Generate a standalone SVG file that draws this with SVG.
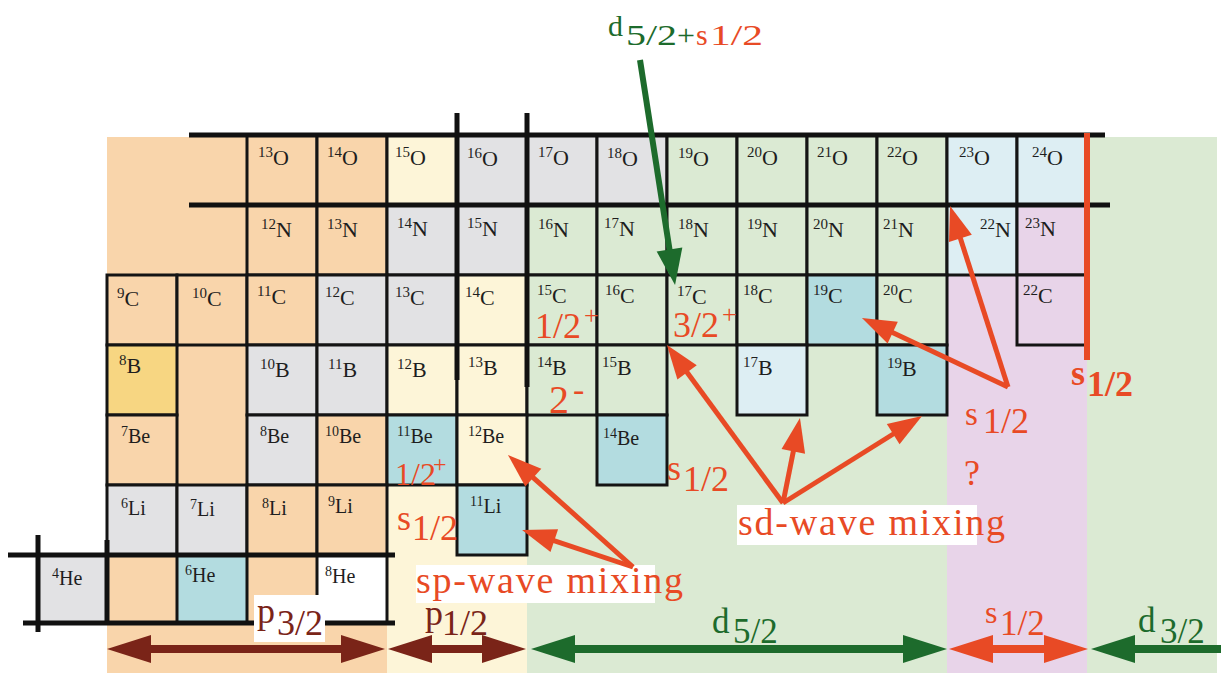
<svg xmlns="http://www.w3.org/2000/svg" width="1221" height="673" viewBox="0 0 1221 673">
<style>
.c{stroke:#141414;stroke-width:3}
.or{fill:#f9d5ab}.gy{fill:#e2e2e4}.cr{fill:#fdf5d8}.gn{fill:#dbead3}.lb{fill:#ddeef3}.tl{fill:#b3dce0}.pk{fill:#e8d4e9}.gd{fill:#f7d682}.wh{fill:#fff}
.t{font-family:"Liberation Serif","Times New Roman",serif;font-size:22px;fill:#1e1e1e}
.t2{font-family:"Liberation Serif","Times New Roman",serif;font-size:20px;fill:#1e1e1e}
.s{font-size:15px}
.s2{font-size:14px}
.bk{stroke:#111;stroke-width:5;fill:none}
.L{font-family:"Liberation Serif","Times New Roman",serif}
.O{fill:#e84a25}.G{fill:#1d6b2c}.B{fill:#7a2418}
.ao{stroke:#e84a25;stroke-width:5;fill:none;marker-end:url(#mO)}
.bb{stroke-width:8;fill:none}
</style>
<defs>
<marker id="mO" markerUnits="userSpaceOnUse" orient="auto-start-reverse" refX="2" refY="0" markerWidth="40" markerHeight="30" overflow="visible"><path d="M0,-12L34,0L0,12z" fill="#e84a25"/></marker>
<marker id="mG" markerUnits="userSpaceOnUse" orient="auto-start-reverse" refX="2" refY="0" markerWidth="40" markerHeight="30" overflow="visible"><path d="M0,-13L36,0L0,13z" fill="#1d6b2c"/></marker>
<marker id="mBb" markerUnits="userSpaceOnUse" orient="auto-start-reverse" refX="2" refY="0" markerWidth="46" markerHeight="30" overflow="visible"><path d="M0,-14L44,0L0,14z" fill="#7a2418"/></marker>
<marker id="mGb" markerUnits="userSpaceOnUse" orient="auto-start-reverse" refX="2" refY="0" markerWidth="46" markerHeight="30" overflow="visible"><path d="M0,-14L44,0L0,14z" fill="#1d6b2c"/></marker>
<marker id="mOb" markerUnits="userSpaceOnUse" orient="auto-start-reverse" refX="2" refY="0" markerWidth="46" markerHeight="30" overflow="visible"><path d="M0,-14L44,0L0,14z" fill="#e84a25"/></marker>
</defs>
<rect width="1221" height="673" fill="#fff"/>
<g id="bands">
<rect x="107" y="137" width="280" height="536" fill="#f9d5ab"/>
<rect x="387" y="137" width="140" height="536" fill="#fdf5d8"/>
<rect x="527" y="137" width="420" height="536" fill="#dbead3"/>
<rect x="947" y="205" width="140" height="468" fill="#e8d4e9"/>
<rect x="1087" y="137" width="130" height="536" fill="#dbead3"/>
</g>
<g id="nodes">
<g id="n13O"><rect class="c or" x="247" y="135" width="70" height="70"/><text class="t" x="258" y="165"><tspan class="s" dy="-8">13</tspan><tspan dy="8">O</tspan></text></g>
<g id="n14O"><rect class="c or" x="317" y="135" width="70" height="70"/><text class="t" x="327" y="165"><tspan class="s" dy="-8">14</tspan><tspan dy="8">O</tspan></text></g>
<g id="n15O"><rect class="c cr" x="387" y="135" width="70" height="70"/><text class="t" x="395" y="165"><tspan class="s" dy="-8">15</tspan><tspan dy="8">O</tspan></text></g>
<g id="n16O"><rect class="c gy" x="457" y="135" width="70" height="70"/><text class="t" x="467" y="166"><tspan class="s" dy="-8">16</tspan><tspan dy="8">O</tspan></text></g>
<g id="n17O"><rect class="c gy" x="527" y="135" width="70" height="70"/><text class="t" x="538" y="165"><tspan class="s" dy="-8">17</tspan><tspan dy="8">O</tspan></text></g>
<g id="n18O"><rect class="c gy" x="597" y="135" width="70" height="70"/><text class="t" x="607" y="166"><tspan class="s" dy="-8">18</tspan><tspan dy="8">O</tspan></text></g>
<g id="n19O"><rect class="c gn" x="667" y="135" width="70" height="70"/><text class="t" x="678" y="166"><tspan class="s" dy="-8">19</tspan><tspan dy="8">O</tspan></text></g>
<g id="n20O"><rect class="c gn" x="737" y="135" width="70" height="70"/><text class="t" x="747" y="165"><tspan class="s" dy="-8">20</tspan><tspan dy="8">O</tspan></text></g>
<g id="n21O"><rect class="c gn" x="807" y="135" width="70" height="70"/><text class="t" x="817" y="165"><tspan class="s" dy="-8">21</tspan><tspan dy="8">O</tspan></text></g>
<g id="n22O"><rect class="c gn" x="877" y="135" width="70" height="70"/><text class="t" x="887" y="165"><tspan class="s" dy="-8">22</tspan><tspan dy="8">O</tspan></text></g>
<g id="n23O"><rect class="c lb" x="947" y="135" width="70" height="70"/><text class="t" x="959" y="165"><tspan class="s" dy="-8">23</tspan><tspan dy="8">O</tspan></text></g>
<g id="n24O"><rect class="c lb" x="1017" y="135" width="70" height="70"/><text class="t" x="1032" y="165"><tspan class="s" dy="-8">24</tspan><tspan dy="8">O</tspan></text></g>

<g id="n12N"><rect class="c or" x="247" y="205" width="70" height="70"/><text class="t" x="261" y="237"><tspan class="s" dy="-8">12</tspan><tspan dy="8">N</tspan></text></g>
<g id="n13N"><rect class="c or" x="317" y="205" width="70" height="70"/><text class="t" x="327" y="237"><tspan class="s" dy="-8">13</tspan><tspan dy="8">N</tspan></text></g>
<g id="n14N"><rect class="c gy" x="387" y="205" width="70" height="70"/><text class="t" x="397" y="236"><tspan class="s" dy="-8">14</tspan><tspan dy="8">N</tspan></text></g>
<g id="n15N"><rect class="c gy" x="457" y="205" width="70" height="70"/><text class="t" x="467" y="236"><tspan class="s" dy="-8">15</tspan><tspan dy="8">N</tspan></text></g>
<g id="n16N"><rect class="c gn" x="527" y="205" width="70" height="70"/><text class="t" x="538" y="237"><tspan class="s" dy="-8">16</tspan><tspan dy="8">N</tspan></text></g>
<g id="n17N"><rect class="c gn" x="597" y="205" width="70" height="70"/><text class="t" x="604" y="236"><tspan class="s" dy="-8">17</tspan><tspan dy="8">N</tspan></text></g>
<g id="n18N"><rect class="c gn" x="667" y="205" width="70" height="70"/><text class="t" x="678" y="237"><tspan class="s" dy="-8">18</tspan><tspan dy="8">N</tspan></text></g>
<g id="n19N"><rect class="c gn" x="737" y="205" width="70" height="70"/><text class="t" x="747" y="237"><tspan class="s" dy="-8">19</tspan><tspan dy="8">N</tspan></text></g>
<g id="n20N"><rect class="c gn" x="807" y="205" width="70" height="70"/><text class="t" x="813" y="237"><tspan class="s" dy="-8">20</tspan><tspan dy="8">N</tspan></text></g>
<g id="n21N"><rect class="c gn" x="877" y="205" width="70" height="70"/><text class="t" x="883" y="237"><tspan class="s" dy="-8">21</tspan><tspan dy="8">N</tspan></text></g>
<g id="n22N"><rect class="c lb" x="947" y="205" width="70" height="70"/><text class="t" x="980" y="237"><tspan class="s" dy="-8">22</tspan><tspan dy="8">N</tspan></text></g>
<g id="n23N"><rect class="c pk" x="1017" y="205" width="70" height="70"/><text class="t" x="1025" y="236"><tspan class="s" dy="-8">23</tspan><tspan dy="8">N</tspan></text></g>

<g id="n9C"><rect class="c or" x="107" y="275" width="70" height="70"/><text class="t" x="117" y="306"><tspan class="s" dy="-8">9</tspan><tspan dy="8">C</tspan></text></g>
<g id="n10C"><rect class="c or" x="177" y="275" width="70" height="70"/><text class="t" x="192" y="306"><tspan class="s" dy="-8">10</tspan><tspan dy="8">C</tspan></text></g>
<g id="n11C"><rect class="c or" x="247" y="275" width="70" height="70"/><text class="t" x="257" y="304"><tspan class="s" dy="-8">11</tspan><tspan dy="8">C</tspan></text></g>
<g id="n12C"><rect class="c gy" x="317" y="275" width="70" height="70"/><text class="t" x="325" y="305"><tspan class="s" dy="-8">12</tspan><tspan dy="8">C</tspan></text></g>
<g id="n13C"><rect class="c gy" x="387" y="275" width="70" height="70"/><text class="t" x="395" y="305"><tspan class="s" dy="-8">13</tspan><tspan dy="8">C</tspan></text></g>
<g id="n14C"><rect class="c cr" x="457" y="275" width="70" height="70"/><text class="t" x="465" y="305"><tspan class="s" dy="-8">14</tspan><tspan dy="8">C</tspan></text></g>
<g id="n15C"><rect class="c gn" x="527" y="275" width="70" height="70"/><text class="t" x="537" y="303"><tspan class="s" dy="-8">15</tspan><tspan dy="8">C</tspan></text></g>
<g id="n16C"><rect class="c gn" x="597" y="275" width="70" height="70"/><text class="t" x="605" y="303"><tspan class="s" dy="-8">16</tspan><tspan dy="8">C</tspan></text></g>
<g id="n17C"><rect class="c gn" x="667" y="275" width="70" height="70"/><text class="t" x="677" y="304"><tspan class="s" dy="-8">17</tspan><tspan dy="8">C</tspan></text></g>
<g id="n18C"><rect class="c gn" x="737" y="275" width="70" height="70"/><text class="t" x="743" y="303"><tspan class="s" dy="-8">18</tspan><tspan dy="8">C</tspan></text></g>
<g id="n19C"><rect class="c tl" x="807" y="275" width="70" height="70"/><text class="t" x="813" y="303"><tspan class="s" dy="-8">19</tspan><tspan dy="8">C</tspan></text></g>
<g id="n20C"><rect class="c gn" x="877" y="275" width="70" height="70"/><text class="t" x="883" y="303"><tspan class="s" dy="-8">20</tspan><tspan dy="8">C</tspan></text></g>
<g id="n22C"><rect class="c pk" x="1017" y="275" width="70" height="70"/><text class="t" x="1023" y="303"><tspan class="s" dy="-8">22</tspan><tspan dy="8">C</tspan></text></g>

<g id="n8B"><rect class="c gd" x="107" y="345" width="70" height="70"/><text class="t" x="119" y="373"><tspan class="s" dy="-8">8</tspan><tspan dy="8">B</tspan></text></g>
<g id="n10B"><rect class="c gy" x="247" y="345" width="70" height="70"/><text class="t" x="260" y="377"><tspan class="s" dy="-8">10</tspan><tspan dy="8">B</tspan></text></g>
<g id="n11B"><rect class="c gy" x="317" y="345" width="70" height="70"/><text class="t" x="328" y="377"><tspan class="s" dy="-8">11</tspan><tspan dy="8">B</tspan></text></g>
<g id="n12B"><rect class="c cr" x="387" y="345" width="70" height="70"/><text class="t" x="397" y="377"><tspan class="s" dy="-8">12</tspan><tspan dy="8">B</tspan></text></g>
<g id="n13B"><rect class="c cr" x="457" y="345" width="70" height="70"/><text class="t" x="468" y="375"><tspan class="s" dy="-8">13</tspan><tspan dy="8">B</tspan></text></g>
<g id="n14B"><rect class="c gn" x="527" y="345" width="70" height="70"/><text class="t" x="537" y="375"><tspan class="s" dy="-8">14</tspan><tspan dy="8">B</tspan></text></g>
<g id="n15B"><rect class="c gn" x="597" y="345" width="70" height="70"/><text class="t" x="602" y="375"><tspan class="s" dy="-8">15</tspan><tspan dy="8">B</tspan></text></g>
<g id="n17B"><rect class="c lb" x="737" y="345" width="70" height="70"/><text class="t" x="743" y="375"><tspan class="s" dy="-8">17</tspan><tspan dy="8">B</tspan></text></g>
<g id="n19B"><rect class="c tl" x="877" y="345" width="70" height="70"/><text class="t" x="887" y="376"><tspan class="s" dy="-8">19</tspan><tspan dy="8">B</tspan></text></g>

<g id="n7Be"><rect class="c or" x="107" y="415" width="70" height="70"/><text class="t2" x="121" y="443"><tspan class="s2" dy="-7">7</tspan><tspan dy="7">Be</tspan></text></g>
<g id="n8Be"><rect class="c gy" x="247" y="415" width="70" height="70"/><text class="t2" x="260" y="443"><tspan class="s2" dy="-7">8</tspan><tspan dy="7">Be</tspan></text></g>
<g id="n10Be"><rect class="c or" x="317" y="415" width="70" height="70"/><text class="t2" x="325" y="443"><tspan class="s2" dy="-7">10</tspan><tspan dy="7">Be</tspan></text></g>
<g id="n11Be"><rect class="c tl" x="387" y="415" width="70" height="70"/><text class="t2" x="397" y="443"><tspan class="s2" dy="-7">11</tspan><tspan dy="7">Be</tspan></text></g>
<g id="n12Be"><rect class="c cr" x="457" y="415" width="70" height="70"/><text class="t2" x="468" y="443"><tspan class="s2" dy="-7">12</tspan><tspan dy="7">Be</tspan></text></g>
<g id="n14Be"><rect class="c tl" x="597" y="415" width="70" height="70"/><text class="t2" x="603" y="445"><tspan class="s2" dy="-7">14</tspan><tspan dy="7">Be</tspan></text></g>

<g id="n6Li"><rect class="c gy" x="107" y="485" width="70" height="70"/><text class="t2" x="121" y="515"><tspan class="s2" dy="-7">6</tspan><tspan dy="7">Li</tspan></text></g>
<g id="n7Li"><rect class="c gy" x="177" y="485" width="70" height="70"/><text class="t2" x="190" y="516"><tspan class="s2" dy="-7">7</tspan><tspan dy="7">Li</tspan></text></g>
<g id="n8Li"><rect class="c or" x="247" y="485" width="70" height="70"/><text class="t2" x="262" y="515"><tspan class="s2" dy="-7">8</tspan><tspan dy="7">Li</tspan></text></g>
<g id="n9Li"><rect class="c or" x="317" y="485" width="70" height="70"/><text class="t2" x="328" y="513"><tspan class="s2" dy="-7">9</tspan><tspan dy="7">Li</tspan></text></g>
<g id="n11Li"><rect class="c tl" x="457" y="485" width="70" height="70"/><text class="t2" x="470" y="513"><tspan class="s2" dy="-7">11</tspan><tspan dy="7">Li</tspan></text></g>

<g id="n4He"><rect class="c gy" x="38" y="555" width="69" height="68"/><text class="t2" x="52" y="585"><tspan class="s2" dy="-7">4</tspan><tspan dy="7">He</tspan></text></g>
<g id="n6He"><rect class="c tl" x="177" y="555" width="70" height="68"/><text class="t2" x="185" y="582"><tspan class="s2" dy="-7">6</tspan><tspan dy="7">He</tspan></text></g>
<g id="n8He"><rect class="c wh" x="317" y="555" width="70" height="68"/><text class="t2" x="325" y="583"><tspan class="s2" dy="-7">8</tspan><tspan dy="7">He</tspan></text></g>
</g>
<g id="gridlines">
<line class="bk" x1="189" y1="135" x2="1105" y2="135"/>
<line class="bk" x1="189" y1="205" x2="1110" y2="205"/>
<line class="bk" x1="457" y1="113" x2="457" y2="380"/>
<line class="bk" x1="527" y1="113" x2="527" y2="387"/>
<line class="bk" x1="8" y1="555" x2="395" y2="555"/>
<line class="bk" x1="23" y1="623" x2="395" y2="623"/>
<line class="bk" x1="38" y1="535" x2="38" y2="632"/>
<line class="bk" x1="107" y1="540" x2="107" y2="625"/>
<line x1="1087" y1="133" x2="1087" y2="360" stroke="#e84a25" stroke-width="6"/>
</g>
<g id="labels" class="L">
<rect x="254" y="595" width="71" height="47" fill="#fff"/>
<rect x="416" y="565" width="239" height="38" fill="#fff"/>
<rect x="737" y="505" width="240" height="40" fill="#fff"/>
<text class="O" x="416" y="593" font-size="38" textLength="267" lengthAdjust="spacing">sp-wave mixing</text>
<text class="O" x="738" y="535" font-size="38" textLength="267" lengthAdjust="spacing">sd-wave mixing</text>
<text class="O" font-size="36"><tspan x="535" y="338">1/2</tspan><tspan x="584" y="324" font-size="26">+</tspan></text>
<text class="O" font-size="36"><tspan x="673" y="337">3/2</tspan><tspan x="722" y="323" font-size="26">+</tspan></text>
<text class="O" font-size="32"><tspan x="395" y="485">1/2</tspan><tspan x="433" y="472" font-size="24">+</tspan></text>
<text class="O" font-size="40"><tspan x="549" y="413">2</tspan><tspan x="573" y="401" font-size="34">-</tspan></text>
<text class="O" font-size="36"><tspan x="397" y="530">s</tspan><tspan x="412" y="540">1/2</tspan></text>
<text class="O" font-size="36"><tspan x="667" y="480">s</tspan><tspan x="683" y="491">1/2</tspan></text>
<text class="O" font-size="36"><tspan x="965" y="425" font-size="33">s</tspan><tspan x="983" y="433">1/2</tspan></text>
<text class="O" x="964" y="485" font-size="36">?</text>
<text class="O" font-size="36" font-weight="bold"><tspan x="1071" y="385">s</tspan><tspan x="1087" y="396">1/2</tspan></text>
<text class="G" x="608" y="36" font-size="30">d</text>
<text class="G" x="626" y="45" font-size="30" textLength="51" lengthAdjust="spacingAndGlyphs">5/2</text>
<text class="G" x="677" y="45" font-size="30" textLength="18" lengthAdjust="spacingAndGlyphs">+</text>
<text class="O" x="696" y="45" font-size="30">s</text>
<text class="O" x="710" y="45" font-size="30" textLength="53" lengthAdjust="spacingAndGlyphs">1/2</text>
<text class="B" font-size="36"><tspan x="257" y="623">p</tspan><tspan x="277" y="635">3/2</tspan></text>
<text class="B" font-size="36"><tspan x="425" y="625">p</tspan><tspan x="442" y="635">1/2</tspan></text>
<text class="G" font-size="35"><tspan x="712" y="633">d</tspan><tspan x="733" y="643">5/2</tspan></text>
<text class="O" font-size="35"><tspan x="985" y="623" font-size="32">s</tspan><tspan x="1000" y="635">1/2</tspan></text>
<text class="G" font-size="35"><tspan x="1138" y="632">d</tspan><tspan x="1160" y="643">3/2</tspan></text>
</g>
<g id="connectors">
<line x1="640" y1="60" x2="669.8" y2="251.4" stroke="#1d6b2c" stroke-width="6" marker-end="url(#mG)"/>
<line class="ao" x1="633" y1="567" x2="531.8" y2="476.3"/>
<line class="ao" x1="633" y1="567" x2="552.4" y2="540.1"/>
<line class="ao" x1="783" y1="503" x2="685.9" y2="370.8"/>
<line class="ao" x1="783" y1="503" x2="793.7" y2="449.4"/>
<line class="ao" x1="783" y1="503" x2="894.9" y2="433"/>
<line class="ao" x1="1008" y1="387" x2="890.9" y2="331.7"/>
<line class="ao" x1="1008" y1="387" x2="959.8" y2="236.5"/>
<line class="bb" x1="149" y1="649" x2="343" y2="649" stroke="#7a2418" marker-start="url(#mBb)" marker-end="url(#mBb)"/>
<line class="bb" x1="430" y1="649" x2="484" y2="649" stroke="#7a2418" marker-start="url(#mBb)" marker-end="url(#mBb)"/>
<line class="bb" x1="573" y1="649" x2="905" y2="649" stroke="#1d6b2c" marker-start="url(#mGb)" marker-end="url(#mGb)"/>
<line class="bb" x1="991" y1="649" x2="1046" y2="649" stroke="#e84a25" marker-start="url(#mOb)" marker-end="url(#mOb)"/>
<line class="bb" x1="1221" y1="649" x2="1133" y2="649" stroke="#1d6b2c" marker-end="url(#mGb)"/>
</g>
</svg>
